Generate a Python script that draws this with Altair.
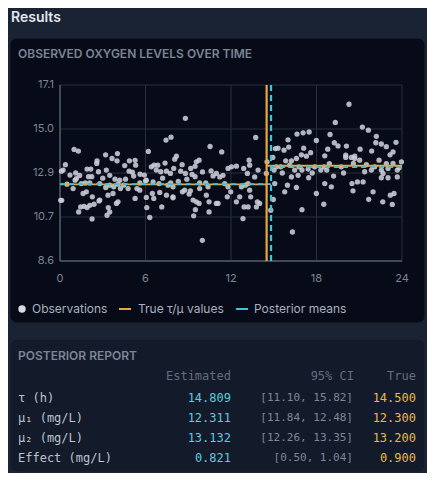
import altair as alt
import pandas as pd

# ---------------- data ----------------
times = [
    8.8, 7.44, 7.79, 0.99, 1.29, 6.2, 10.53, 3.2, 4.03, 3.65, 4.0, 2.6, 2.58, 2.16, 1.9, 0.38, 0.1, 0.22,
    4.87, 5.27, 5.31, 4.54, 6.41, 6.6, 6.86, 7.37, 8.17, 8.05, 8.57, 9.17, 9.48, 9.76, 9.57,
    1.38, 1.15, 1.06, 2.0, 2.23, 2.7, 3.25, 3.49, 3.86, 4.19, 4.85, 5.08, 5.17, 5.62, 5.92, 6.0,
    6.76, 7.07, 7.47, 7.75, 7.98, 8.47, 8.8, 9.27, 9.48, 9.8, 10.23, 10.74,
    0.49, 1.5, 1.78, 2.09, 2.79, 3.21, 3.49, 3.77, 4.07, 4.24, 4.47, 4.78, 5.6, 6.06, 6.53, 6.95,
    7.58, 7.77, 7.93, 8.75, 9.15, 9.8, 10.39,
    0.92, 1.62, 1.85, 2.27, 2.79, 3.37, 3.72, 3.96, 4.07, 5.27, 5.6, 6.06, 6.48, 6.58, 7.0, 7.47,
    7.93, 8.59, 9.06, 9.34, 9.57, 9.76, 10.27, 10.46, 10.97,
    1.45, 1.69, 1.9, 2.09, 2.39, 2.74, 3.39, 3.49, 3.3, 1.31, 2.25, 6.09, 6.3, 7.14, 7.93, 9.38,
    9.5, 10.46, 9.99, 0.05, 0.12,
    7.2, 8.3, 8.9, 10.0, 10.6, 5.4, 4.6, 3.0, 0.7, 1.1,
    20.28, 19.32, 21.22, 21.64, 16.63, 17.06, 17.48, 17.99, 18.95, 16.0, 15.72, 16.05, 15.11, 14.93,
    15.3, 13.73, 11.35,
    22.2, 22.16, 22.55, 22.9, 23.58, 23.16, 21.87, 21.06, 20.1, 19.25, 19.51, 18.79, 18.58, 17.1,
    17.59, 16.94, 16.59, 17.29, 16.24, 15.84,
    15.02, 15.18, 15.49, 16.12, 16.47, 16.77, 16.98, 17.41, 17.87, 18.3, 18.53, 18.72, 19.74, 20.05,
    20.45, 20.68, 20.59, 21.03, 21.38, 21.85, 22.08, 22.39, 22.55, 22.67, 23.02, 23.37, 23.67, 23.96,
    20.05, 20.68,
    15.07, 15.77, 15.96, 16.24, 16.71, 16.59, 16.98, 17.45, 17.99, 18.51, 18.58, 19.04, 20.49, 20.56,
    20.87, 21.27, 21.66, 21.97, 22.55, 22.65, 23.02, 23.18, 23.32, 23.44, 23.67, 23.37, 16.31,
    13.27, 13.31, 12.89, 13.15, 13.66, 13.9, 13.85, 14.01, 13.78, 12.84, 14.53, 14.48, 14.97, 14.79,
    10.97, 11.21, 11.44, 11.56, 11.79, 11.98, 11.74, 11.09, 12.38, 12.61, 12.73, 13.01, 13.31, 13.2,
    13.38, 12.03, 12.38, 11.79, 12.92, 13.2,
    18.9, 19.9, 21.5, 22.9, 23.8, 19.2, 17.7, 15.6,
]
oxygen = [
    15.49, 14.44, 14.58, 13.99, 13.91, 13.89, 14.13, 13.73, 13.79, 13.55, 13.44, 13.44, 13.31, 13.04,
    13.04, 13.25, 12.94, 12.99,
    13.44, 13.46, 13.23, 13.21, 13.15, 13.23, 13.23, 13.33, 13.66, 13.52, 13.25, 13.07, 13.17, 13.47, 13.39,
    12.73, 12.58, 12.5, 12.67, 12.67, 12.91, 12.99, 12.74, 12.55, 12.5, 12.94, 12.89, 12.7, 12.79, 12.75, 12.47,
    12.99, 12.91, 12.94, 12.83, 13.07, 12.94, 12.83, 12.78, 12.67, 12.37, 12.37, 12.71,
    12.31, 12.34, 12.37, 12.37, 12.34, 12.15, 12.26, 12.18, 12.31, 12.1, 12.26, 12.1, 12.37, 12.5, 12.42, 12.34,
    12.26, 12.37, 12.18, 12.02, 11.99, 12.1, 12.18,
    12.1, 11.86, 11.94, 11.7, 11.54, 11.78, 11.86, 11.38, 11.46, 11.62, 12.02, 11.67, 11.86, 11.62, 11.91, 11.78,
    11.7, 11.94, 11.83, 11.54, 11.46, 11.38, 11.78, 11.46, 11.38,
    11.21, 11.24, 11.18, 11.29, 11.34, 11.5, 11.18, 10.97, 10.81, 10.97, 10.63, 11.18, 10.7, 11.21, 11.65, 10.78,
    11.08, 10.97, 9.6, 11.53, 11.53,
    12.6, 12.45, 12.55, 12.9, 12.95, 12.1, 12.55, 12.6, 12.75, 12.85,
    16.17, 15.29, 15.07, 14.92, 14.73, 14.79, 14.83, 14.42, 14.71, 14.45, 13.95, 14.1, 14.03, 13.6,
    14.05, 14.57, 13.87,
    14.62, 14.31, 14.25, 14.12, 14.33, 13.73, 13.91, 14.0, 14.15, 14.31, 14.16, 14.0, 13.68, 14.05,
    13.83, 13.73, 13.55, 13.66, 13.44, 13.44,
    12.99, 13.15, 13.15, 13.23, 12.99, 13.15, 12.99, 13.04, 13.15, 12.99, 13.15, 12.99, 13.15, 13.6,
    13.6, 13.55, 13.31, 13.47, 12.91, 12.99, 13.15, 13.47, 12.99, 12.83, 13.07, 13.31, 12.99, 13.39,
    13.71, 13.66,
    12.34, 11.94, 12.26, 12.66, 12.74, 12.15, 11.08, 12.62, 11.86, 11.34, 12.34, 12.18, 12.34, 11.99,
    12.42, 12.42, 11.58, 11.94, 12.62, 11.46, 12.62, 11.78, 11.33, 11.86, 12.66, 13.87, 10.0,
    13.47, 13.23, 13.07, 12.83, 12.66, 12.99, 11.46, 11.38, 11.21, 10.65, 13.39, 12.83, 11.57, 11.05,
    12.83, 12.66, 12.74, 12.34, 12.18, 11.94, 11.7, 11.38, 11.46, 11.7, 12.18, 12.26, 12.02, 12.34,
    11.7, 13.15, 13.18, 13.07, 11.21, 11.21,
    13.3, 12.85, 13.25, 13.3, 13.1, 12.7, 12.85, 12.85,
]

tau_true = 14.5
tau_post = 14.809
mu_true = [12.3, 13.2]
mu_post = [12.311, 13.132]

x_ticks = [0, 6, 12, 18, 24]
y_ticks = [8.6, 10.725, 12.85, 14.975, 17.1]

params = ["τ (h)", "μ₁ (mg/L)", "μ₂ (mg/L)", "Effect (mg/L)"]
est_vals = [14.809, 12.311, 13.132, 0.821]
ci_low = [11.10, 11.84, 12.26, 0.50]
ci_high = [15.82, 12.48, 13.35, 1.04]
true_vals = [14.500, 12.300, 13.200, 0.900]
headers = ["Estimated", "95% CI", "True"]
legend_labels = ["Observations", "True τ/μ values", "Posterior means"]

# ---------------- layout / style ----------------
W, H = 342, 176
OX, OY = 60, 85          # plot origin in page coords
CW, CH = 419, 465        # canvas size


def vx(x):
    return x - OX


def vy(y):
    return y - OY


BG = "#1a2334"
CARD = "#070b17"
CARD2 = "#131b2a"
GRID = "#262e3c"
DOMAIN = "#4f5868"
MUTED = "#7c8595"
ORANGE = "#eea43a"
CYAN = "#3cc5dc"
DOT = "#c9ced8"
SANS = "Inter"
MONO = "DejaVu Sans Mono"

xs = alt.Scale(domain=[0, 24], nice=False)
ys = alt.Scale(domain=[8.6, 17.1], nice=False, zero=False)

one = pd.DataFrame({"k": [0]})

# ---------------- layers ----------------
card1 = alt.Chart(one).mark_rect(fill=CARD, cornerRadius=7, stroke="#1c2535", strokeWidth=1).encode(
    x=alt.value(vx(10)), x2=alt.value(vx(425)), y=alt.value(vy(38)), y2=alt.value(vy(323))
)
card2 = alt.Chart(one).mark_rect(fill=CARD2, cornerRadius=7, stroke="#1e2737", strokeWidth=1).encode(
    x=alt.value(vx(10)), x2=alt.value(vx(425)), y=alt.value(vy(339)), y2=alt.value(vy(472))
)


def label(txt, x, y, size=12, color=MUTED, weight="normal", font=SANS, align="left"):
    return alt.Chart(one).mark_text(
        align=align, baseline="middle", fontSize=size, color=color, fontWeight=weight, font=font
    ).encode(x=alt.value(vx(x)), y=alt.value(vy(y)), text=alt.value(txt))


results_t = label("Results", 11, 18, size=14, color="#e3e7ee", weight=600)
title1 = label("OBSERVED OXYGEN LEVELS OVER TIME", 18, 54, size=12, color=MUTED, weight=600)
title2 = label("POSTERIOR REPORT", 18, 356, size=12, color=MUTED, weight=600)

# grid, drawn through the scales
gx = alt.Chart(pd.DataFrame({"t": x_ticks})).mark_rule(color=GRID, strokeWidth=1).encode(
    x=alt.X("t:Q", scale=xs, axis=None)
)
gy = alt.Chart(pd.DataFrame({"v": y_ticks})).mark_rule(color=GRID, strokeWidth=1).encode(
    y=alt.Y("v:Q", scale=ys, axis=None)
)
# axis domain lines (left and bottom)
dom_left = alt.Chart(one).mark_rule(color=DOMAIN, strokeWidth=1.5).encode(
    x=alt.value(0), y=alt.value(0), y2=alt.value(H)
)
dom_bottom = alt.Chart(one).mark_rule(color=DOMAIN, strokeWidth=1.5).encode(
    x=alt.value(0), x2=alt.value(W), y=alt.value(H)
)
# tick labels, placed through the scales
xlab = alt.Chart(pd.DataFrame({"t": x_ticks})).transform_calculate(
    lab="format(datum.t, 'd')"
).mark_text(align="center", baseline="middle", font=SANS, fontSize=11, color=MUTED).encode(
    x=alt.X("t:Q", scale=xs, axis=None), y=alt.value(vy(279)), text="lab:N"
)
ylab = alt.Chart(pd.DataFrame({"v": y_ticks})).transform_calculate(
    lab="format(datum.v + 0.000001, '.1f')"
).mark_text(align="right", baseline="middle", font=SANS, fontSize=11, color=MUTED).encode(
    y=alt.Y("v:Q", scale=ys, axis=None), x=alt.value(vx(54)), text="lab:N"
)

obs = pd.DataFrame({"time": times, "oxygen": oxygen})
scatter = alt.Chart(obs).mark_circle(size=28, color=DOT, opacity=0.88).encode(
    x=alt.X("time:Q", scale=xs, axis=None),
    y=alt.Y("oxygen:Q", scale=ys, axis=None),
)

seg = pd.DataFrame({
    "x0": [0, tau_true, 0, tau_post],
    "x1": [tau_true, 24, tau_post, 24],
    "mu": [mu_true[0], mu_true[1], mu_post[0], mu_post[1]],
    "kind": ["true", "true", "post", "post"],
})
h_true = alt.Chart(seg).transform_filter("datum.kind == 'true'").mark_rule(
    color=ORANGE, strokeWidth=1.8).encode(
    x=alt.X("x0:Q", scale=xs, axis=None), x2="x1:Q", y=alt.Y("mu:Q", scale=ys, axis=None)
)
h_post = alt.Chart(seg).transform_filter("datum.kind == 'post'").mark_rule(
    color=CYAN, strokeWidth=1.8, strokeDash=[5, 4]).encode(
    x=alt.X("x0:Q", scale=xs, axis=None), x2="x1:Q", y=alt.Y("mu:Q", scale=ys, axis=None)
)
v_true = alt.Chart(pd.DataFrame({"tau": [tau_true]})).mark_rule(color=ORANGE, strokeWidth=2.2).encode(
    x=alt.X("tau:Q", scale=xs, axis=None)
)
v_post = alt.Chart(pd.DataFrame({"tau": [tau_post]})).mark_rule(
    color=CYAN, strokeWidth=2.2, strokeDash=[6, 4]).encode(
    x=alt.X("tau:Q", scale=xs, axis=None)
)

# legend
LEG_Y = 309
leg_dot = alt.Chart(one).mark_circle(size=55, color="#d6dae2", opacity=1).encode(
    x=alt.value(vx(22)), y=alt.value(vy(LEG_Y))
)
leg_or = alt.Chart(one).mark_rule(color=ORANGE, strokeWidth=2).encode(
    x=alt.value(vx(119)), x2=alt.value(vx(131)), y=alt.value(vy(LEG_Y))
)
leg_cy = alt.Chart(one).mark_rule(color=CYAN, strokeWidth=2).encode(
    x=alt.value(vx(236)), x2=alt.value(vx(248)), y=alt.value(vy(LEG_Y))
)
LEG_C = "#a9b1be"
leg_t1 = label(legend_labels[0], 32, LEG_Y, size=12, color=LEG_C)
leg_t2 = label(legend_labels[1], 138, LEG_Y, size=12, color=LEG_C)
leg_t3 = label(legend_labels[2], 254, LEG_Y, size=12, color=LEG_C)

# table
HEAD_Y = 376
ROW0, ROWH = 398, 20
hdr_c = "#646d7b"
h1 = label(headers[0], 231, HEAD_Y, size=12, color=hdr_c, font=MONO, align="right")
h2 = label(headers[1], 354, HEAD_Y, size=12, color=hdr_c, font=MONO, align="right")
h3 = label(headers[2], 416, HEAD_Y, size=12, color=hdr_c, font=MONO, align="right")

tab = pd.DataFrame({
    "row": list(range(len(params))),
    "param": params,
    "est": [f"{v:.3f}" for v in est_vals],
    "ci": [f"[{a:.2f}, {b:.2f}]" for a, b in zip(ci_low, ci_high)],
    "true": [f"{v:.3f}" for v in true_vals],
})
base_tab = alt.Chart(tab).transform_calculate(ypix=f"{vy(ROW0)} + {ROWH} * datum.row")


def col(field, x, color, align, size=12):
    return base_tab.mark_text(align=align, baseline="middle", font=MONO, fontSize=size, color=color).encode(
        x=alt.value(vx(x)), y=alt.Y("ypix:Q", scale=None, axis=None), text=f"{field}:N"
    )


c_par = col("param", 18, "#bcc3ce", "left")
c_est = col("est", 231, "#5ccbdd", "right")
c_ci = col("ci", 353, "#7f8795", "right", size=11)
c_true = col("true", 416, "#e7b948", "right")

chart = alt.layer(
    card1, card2, results_t, title1, title2,
    gx, gy, dom_left, dom_bottom, xlab, ylab,
    scatter, h_true, h_post, v_true, v_post,
    leg_dot, leg_or, leg_cy, leg_t1, leg_t2, leg_t3,
    h1, h2, h3, c_par, c_est, c_ci, c_true,
).properties(
    width=W, height=H,
    padding={"left": OX - 8, "top": OY - 8, "right": CW - (OX - 8) - W, "bottom": CH - (OY - 8) - H},
    autosize=alt.AutoSizeParams(type="none"),
    background=BG,
).configure_view(stroke=None)

chart.save("out.html", embed_options={"renderer": "svg", "actions": False})
